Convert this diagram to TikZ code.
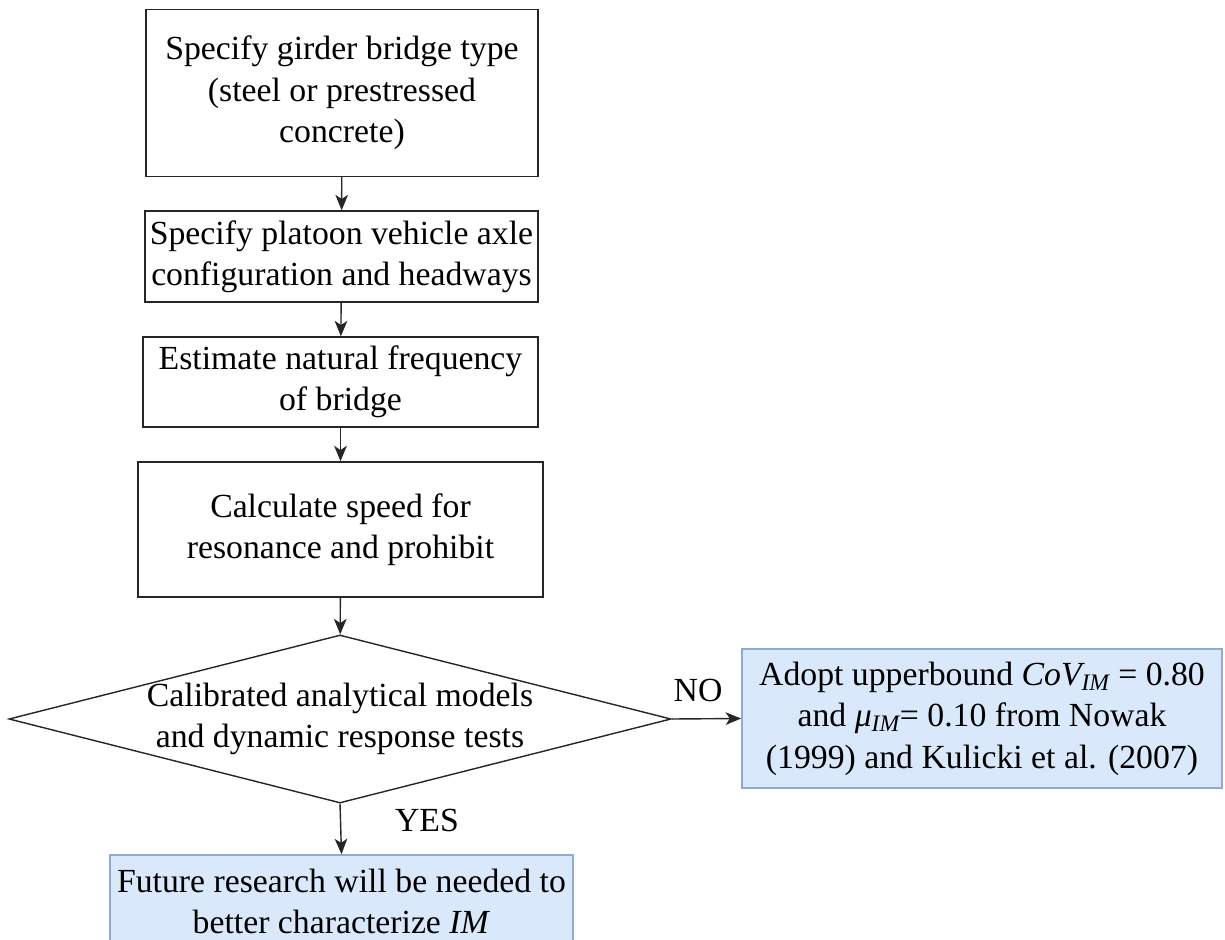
\documentclass[tikz,border=0pt]{standalone}
\usepackage{amsmath}
\usepackage{fontspec}
\setmainfont{Liberation Serif}
\usetikzlibrary{shapes.geometric,arrows.meta}
\definecolor{boxblue}{HTML}{DAE8FC}
\definecolor{lineblue}{HTML}{8FAAD3}
\tikzset{
	stepbox/.style={draw=black!85,line width=1pt,align=center,inner sep=0pt},
	endbox/.style={draw=lineblue,fill=boxblue,line width=1.2pt,align=center,inner sep=0pt},
	decision/.style={diamond,shape aspect=3.94,draw=black!85,line width=1pt,inner sep=0pt},
	flow/.style={-{Stealth[length=11pt,width=9pt,inset=3pt]},line width=1pt,black!85},
}
\begin{document}
\begin{tikzpicture}[x=0.025cm,y=-0.025cm,font=\fontsize{24}{29.5}\selectfont]
		\useasboundingbox[fill=white] (0,0) rectangle (1225,940);
		% process boxes
		\node[stepbox,minimum width=9.8cm,minimum height=4.175cm] (girder) at (342,93)
			{Specify girder bridge type\\(steel or prestressed\\concrete)};
		\node[stepbox,minimum width=9.825cm,minimum height=2.275cm] (platoon) at (341.5,256.5)
			{Specify platoon vehicle axle\\configuration and headways};
		\node[stepbox,minimum width=9.875cm,minimum height=2.25cm] (freq) at (340.5,382)
			{Estimate natural frequency\\of bridge};
		\node[stepbox,minimum width=10.125cm,minimum height=3.375cm] (speed) at (340.5,529.5)
			{Calculate speed for\\resonance and prohibit};
		% decision, its text runs over the outline
		\node[decision,minimum width=16.55cm,minimum height=4.2cm,
			label={[align=center]center:Calibrated analytical models\\and dynamic response tests}] (calib) at (340,719) {};
		% outcomes
		\node[endbox,minimum width=12cm,minimum height=3.475cm] (upper) at (982,718.5)
			{Adopt upperbound $\textit{CoV}_{\textit{IM}}$ = 0.80\\and \textit{μ}$_{\textit{IM}}$= 0.10 from Nowak\\(1999) and Kulicki et al. (2007)};
		\node[endbox,minimum width=11.575cm,minimum height=2.325cm] (future) at (341.5,901.5)
			{Future research will be needed to\\better characterize \textit{IM}};
		% connectors
		\draw[flow] (girder) -- (platoon);
		\draw[flow] (platoon) -- (freq);
		\draw[flow] (freq) -- (speed);
		\draw[flow] (speed) -- (calib);
		\draw[flow] (calib.east) -- (upper.west);
		\draw[flow] (calib.south) -- (future.north);
		\node (no) at (698,690) {NO};
		\node (yes) at (427,820) {YES};
		\end{tikzpicture}
\end{document}
